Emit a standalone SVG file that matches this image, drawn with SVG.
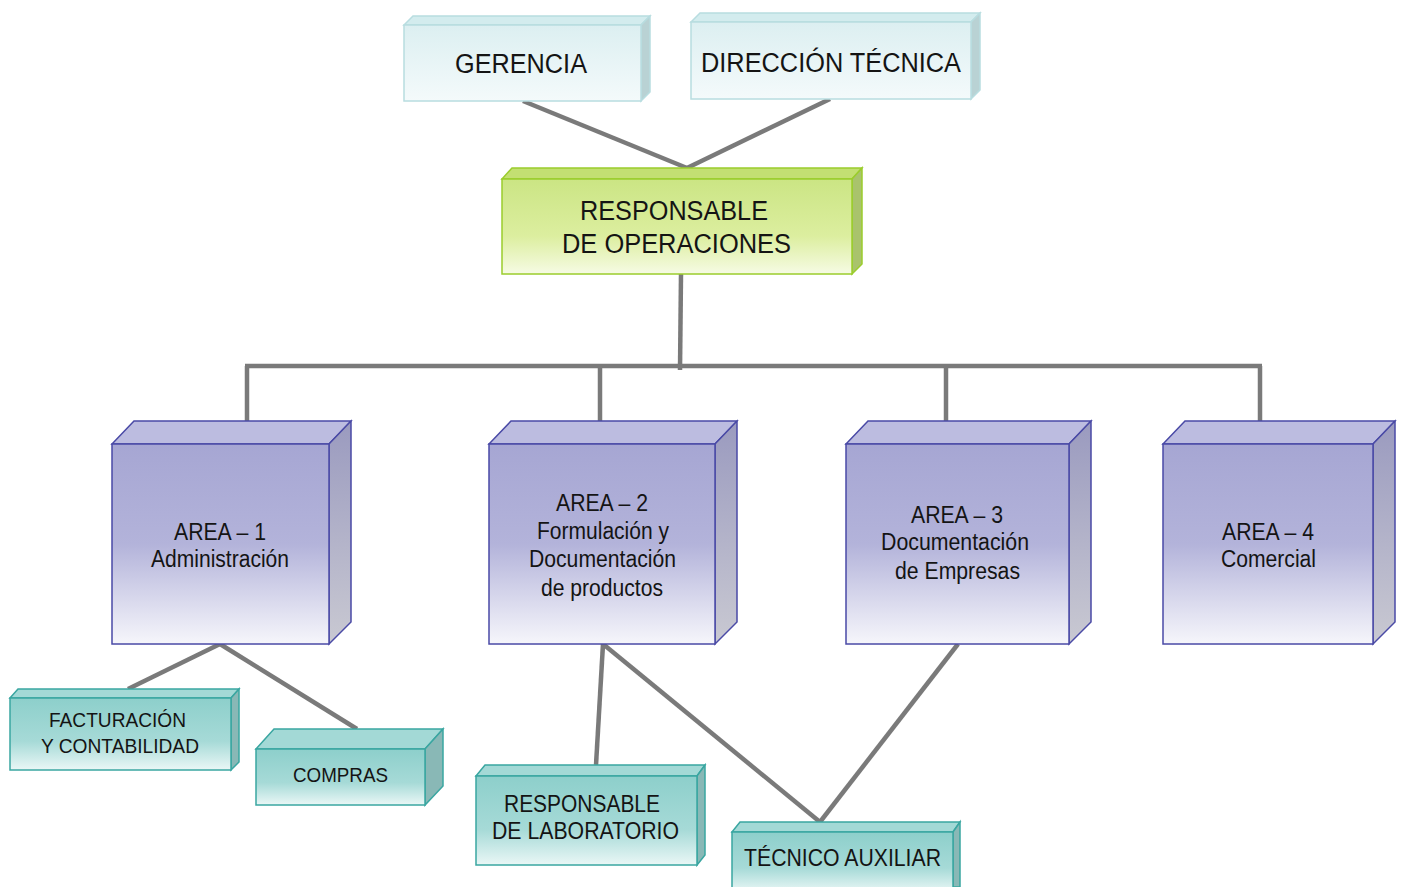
<svg xmlns="http://www.w3.org/2000/svg" width="1405" height="887" viewBox="0 0 1405 887">
<defs>
<linearGradient id="gTop" x1="0" y1="0" x2="0" y2="1"><stop offset="0" stop-color="#dceff1"/><stop offset="1" stop-color="#f4fafb"/></linearGradient>
<linearGradient id="gGreen" x1="0" y1="0" x2="0" y2="1"><stop offset="0" stop-color="#cbe584"/><stop offset="0.6" stop-color="#dcee9f"/><stop offset="1" stop-color="#f6fbe4"/></linearGradient>
<linearGradient id="gArea" x1="0" y1="0" x2="0" y2="1"><stop offset="0" stop-color="#a6a6d3"/><stop offset="0.5" stop-color="#b3b3da"/><stop offset="1" stop-color="#f6f6fb"/></linearGradient>
<linearGradient id="gAreaSide" x1="0" y1="0" x2="0" y2="1"><stop offset="0" stop-color="#9a9abf"/><stop offset="1" stop-color="#c9c9d2"/></linearGradient>
<linearGradient id="gTeal" x1="0" y1="0" x2="0" y2="1"><stop offset="0" stop-color="#8dcfcb"/><stop offset="0.6" stop-color="#a6dad7"/><stop offset="1" stop-color="#eaf7f6"/></linearGradient>
</defs>
<style>
.t{font-family:"Liberation Sans",Arial,sans-serif;fill:#141414;text-anchor:middle}
.cf{fill:url(#gTop);stroke:#b8dde0;stroke-width:1.5}
.ct{fill:#d3ecee;stroke:#b8dde0;stroke-width:1.5}
.cs{fill:#b9d2d4;stroke:#b8dde0;stroke-width:1.5}
.gf{fill:url(#gGreen);stroke:#9bcd2c;stroke-width:1.5}
.gt{fill:#c3df72;stroke:#9bcd2c;stroke-width:1.5}
.gs{fill:#a9c36c;stroke:#9bcd2c;stroke-width:1.5}
.af{fill:url(#gArea);stroke:#4a4aa6;stroke-width:1.5}
.at{fill:#bcbce0;stroke:#4a4aa6;stroke-width:1.5}
.as{fill:url(#gAreaSide);stroke:#4a4aa6;stroke-width:1.5}
.tf{fill:url(#gTeal);stroke:#3aa6a1;stroke-width:1.5}
.tt{fill:#a3d9d6;stroke:#3aa6a1;stroke-width:1.5}
.ts{fill:#89b8b6;stroke:#3aa6a1;stroke-width:1.5}
.c{stroke:#7a7a7a;stroke-width:4.5;fill:none;stroke-linecap:butt}
</style>
<g id="connectors">
<line class="c" x1="523" y1="101" x2="687" y2="168"/>
<line class="c" x1="830" y1="99" x2="687" y2="168"/>
<line class="c" x1="681" y1="274" x2="680" y2="370"/>
<line class="c" x1="245" y1="366" x2="1262" y2="366"/>
<line class="c" x1="247" y1="366" x2="247" y2="421"/>
<line class="c" x1="600" y1="366" x2="600" y2="421"/>
<line class="c" x1="946" y1="366" x2="946" y2="421"/>
<line class="c" x1="1260" y1="366" x2="1260" y2="421"/>
<line class="c" x1="220" y1="644" x2="128" y2="689"/>
<line class="c" x1="220" y1="644" x2="357" y2="729"/>
<line class="c" x1="603" y1="644" x2="596" y2="765"/>
<line class="c" x1="603" y1="644" x2="820" y2="822"/>
<line class="c" x1="958" y1="644" x2="820" y2="822"/>
</g>
<g id="gerencia">
<polygon class="ct" points="404,25 413,16 650,16 641,25"/>
<polygon class="cs" points="641,25 650,16 650,92 641,101"/>
<rect class="cf" x="404" y="25" width="237" height="76"/>
<text class="t" x="521" y="73" font-size="27" textLength="132" lengthAdjust="spacingAndGlyphs">GERENCIA</text>
</g>
<g id="direccion">
<polygon class="ct" points="691,22 700,13 980,13 971,22"/>
<polygon class="cs" points="971,22 980,13 980,90 971,99"/>
<rect class="cf" x="691" y="22" width="280" height="77"/>
<text class="t" x="831" y="72" font-size="27" textLength="260" lengthAdjust="spacingAndGlyphs">DIRECCIÓN TÉCNICA</text>
</g>
<g id="responsable-operaciones">
<polygon class="gt" points="502,179 512,168 862,168 852,179"/>
<polygon class="gs" points="852,179 862,168 862,264 852,274"/>
<rect class="gf" x="502" y="179" width="350" height="95"/>
<text class="t" x="674" y="220" font-size="27" textLength="188" lengthAdjust="spacingAndGlyphs">RESPONSABLE</text>
<text class="t" x="676.5" y="253" font-size="27" textLength="229" lengthAdjust="spacingAndGlyphs">DE OPERACIONES</text>
</g>
<g id="area1">
<polygon class="at" points="112,444 134,421 351,421 329,444"/>
<polygon class="as" points="329,444 351,421 351,622 329,644"/>
<rect class="af" x="112" y="444" width="217" height="200"/>
<text class="t" x="220" y="540" font-size="23" textLength="92" lengthAdjust="spacingAndGlyphs">AREA – 1</text>
<text class="t" x="220" y="567" font-size="23" textLength="138" lengthAdjust="spacingAndGlyphs">Administración</text>
</g>
<g id="area2">
<polygon class="at" points="489,444 511,421 737,421 715,444"/>
<polygon class="as" points="715,444 737,421 737,622 715,644"/>
<rect class="af" x="489" y="444" width="226" height="200"/>
<text class="t" x="602" y="511" font-size="23" textLength="92" lengthAdjust="spacingAndGlyphs">AREA – 2</text>
<text class="t" x="603" y="539" font-size="23" textLength="132" lengthAdjust="spacingAndGlyphs">Formulación y</text>
<text class="t" x="602.5" y="567" font-size="23" textLength="147" lengthAdjust="spacingAndGlyphs">Documentación</text>
<text class="t" x="602" y="596" font-size="23" textLength="122" lengthAdjust="spacingAndGlyphs">de productos</text>
</g>
<g id="area3">
<polygon class="at" points="846,444 868,421 1091,421 1069,444"/>
<polygon class="as" points="1069,444 1091,421 1091,622 1069,644"/>
<rect class="af" x="846" y="444" width="223" height="200"/>
<text class="t" x="957" y="523" font-size="23" textLength="92" lengthAdjust="spacingAndGlyphs">AREA – 3</text>
<text class="t" x="955" y="550" font-size="23" textLength="148" lengthAdjust="spacingAndGlyphs">Documentación</text>
<text class="t" x="957.5" y="579" font-size="23" textLength="125" lengthAdjust="spacingAndGlyphs">de Empresas</text>
</g>
<g id="area4">
<polygon class="at" points="1163,444 1185,421 1395,421 1373,444"/>
<polygon class="as" points="1373,444 1395,421 1395,622 1373,644"/>
<rect class="af" x="1163" y="444" width="210" height="200"/>
<text class="t" x="1268" y="540" font-size="23" textLength="92" lengthAdjust="spacingAndGlyphs">AREA – 4</text>
<text class="t" x="1268.5" y="567" font-size="23" textLength="95" lengthAdjust="spacingAndGlyphs">Comercial</text>
</g>
<g id="facturacion">
<polygon class="tt" points="10,698 18,689 239,689 231,698"/>
<polygon class="ts" points="231,698 239,689 239,762 231,770"/>
<rect class="tf" x="10" y="698" width="221" height="72"/>
<text class="t" x="117.5" y="727" font-size="21" textLength="137" lengthAdjust="spacingAndGlyphs">FACTURACIÓN</text>
<text class="t" x="120" y="753" font-size="21" textLength="158" lengthAdjust="spacingAndGlyphs">Y CONTABILIDAD</text>
</g>
<g id="compras">
<polygon class="tt" points="256,749 274,729 443,729 425,749"/>
<polygon class="ts" points="425,749 443,729 443,786 425,805"/>
<rect class="tf" x="256" y="749" width="169" height="56"/>
<text class="t" x="340.5" y="782" font-size="21" textLength="95" lengthAdjust="spacingAndGlyphs">COMPRAS</text>
</g>
<g id="responsable-laboratorio">
<polygon class="tt" points="476,776 485,765 705,765 697,776"/>
<polygon class="ts" points="697,776 705,765 705,855 697,865"/>
<rect class="tf" x="476" y="776" width="221" height="89"/>
<text class="t" x="582" y="812" font-size="23" textLength="156" lengthAdjust="spacingAndGlyphs">RESPONSABLE</text>
<text class="t" x="585.5" y="839" font-size="23" textLength="187" lengthAdjust="spacingAndGlyphs">DE LABORATORIO</text>
</g>
<g id="tecnico-auxiliar">
<polygon class="tt" points="732,832 740,822 960,822 953,832"/>
<polygon class="ts" points="953,832 960,822 960,887 953,887"/>
<rect class="tf" x="732" y="832" width="221" height="60"/>
<text class="t" x="842.5" y="866" font-size="23" textLength="197" lengthAdjust="spacingAndGlyphs">TÉCNICO AUXILIAR</text>
</g>
</svg>
